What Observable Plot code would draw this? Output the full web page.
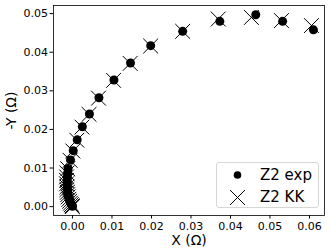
<!DOCTYPE html>
<html><head><meta charset="utf-8">
<script src="https://cdn.jsdelivr.net/npm/d3@7"></script>
<script src="https://cdn.jsdelivr.net/npm/@observablehq/plot@0.6"></script>
<style>
body{margin:0;background:#fff;}
#wrap{position:relative;width:332px;height:249px;font-family:"DejaVu Sans",sans-serif;}
#legend{position:absolute;left:216px;top:162px;width:103px;height:46px;border:1px solid #d6d6d6;border-radius:3px;background:rgba(255,255,255,0.8);box-sizing:border-box;}
#legend svg{position:absolute;left:0;top:0;}
#legend span{position:absolute;left:43px;font-size:15px;line-height:15px;color:#000;white-space:nowrap;}
</style></head><body><div id="wrap"></div>
<script>
const expX = [0.0610, 0.0532, 0.0464, 0.0373, 0.0279, 0.0198, 0.0147, 0.0105, 0.0067, 0.0043, 0.0025, 0.0012, 0.0002, -0.0005, -0.0011, -0.0012, -0.0013, -0.0013, -0.0013, -0.0013, -0.0012, -0.0012, -0.0011, -0.0010, -0.0009, -0.0007, -0.0005, -0.0003, -0.0001, 0.0000];
const expY = [0.0458, 0.0480, 0.0497, 0.0480, 0.0454, 0.0417, 0.0372, 0.0328, 0.0282, 0.0240, 0.0207, 0.0173, 0.0145, 0.0121, 0.0099, 0.0088, 0.0078, 0.0069, 0.0060, 0.0052, 0.0045, 0.0038, 0.0032, 0.0026, 0.0020, 0.0015, 0.0010, 0.0006, 0.0003, 0.0001];
const kkX = [0.0605, 0.0529, 0.0453, 0.0369, 0.0279, 0.0198, 0.0146, 0.0104, 0.0066, 0.0042, 0.0024, 0.0011, 0.0001, -0.0006, -0.0012, -0.0014, -0.0015, -0.0015, -0.0015, -0.0014, -0.0014, -0.0013, -0.0012, -0.0011, -0.0009, -0.0007, -0.0005, -0.0003, -0.0001, 0.0000];
const kkY = [0.0469, 0.0482, 0.0490, 0.0486, 0.0454, 0.0416, 0.0371, 0.0327, 0.0281, 0.0239, 0.0206, 0.0172, 0.0144, 0.0120, 0.0098, 0.0087, 0.0077, 0.0068, 0.0059, 0.0051, 0.0044, 0.0037, 0.0031, 0.0025, 0.0019, 0.0014, 0.0009, 0.0005, 0.0002, 0.0000];
const xTicks = [0.00, 0.01, 0.02, 0.03, 0.04, 0.05, 0.06];
const yTicks = [0.00, 0.01, 0.02, 0.03, 0.04, 0.05];
const xLabel = "X (Ω)";
const yLabel = "-Y (Ω)";
const seriesNames = ["Z2 exp", "Z2 KK"];

const expData = expX.map((x, i) => ({x, y: expY[i]}));
const kkData = kkX.map((x, i) => ({x, y: kkY[i]}));
const fmt = d3.format(".2f");

const chart = Plot.plot({
  width: 332, height: 249,
  marginLeft: 53, marginRight: 8, marginTop: 5, marginBottom: 34,
  x: {domain: [-0.0048, 0.0638]},
  y: {domain: [-0.0023, 0.0521]},
  style: {fontFamily: "'DejaVu Sans', sans-serif", fontSize: "11px", color: "#000", background: "#fff"},
  marks: [
    Plot.axisX({ticks: xTicks, tickFormat: fmt, tickSize: 3.5, tickPadding: 3, label: null}),
    Plot.axisY({ticks: yTicks, tickFormat: fmt, tickSize: 3.5, tickPadding: 2, label: null}),
    Plot.dot(expData, {x: "x", y: "y", r: 4.5, fill: "#000", stroke: "none"}),
    Plot.dot(kkData, {x: "x", y: "y", symbol: "times", r: 6.8, stroke: "#000", strokeWidth: 1, fill: "none"}),
    Plot.frame({stroke: "#000", strokeWidth: 0.8}),
    Plot.text([xLabel], {text: d => d, frameAnchor: "bottom", textAnchor: "middle", lineAnchor: "middle", dy: 25, fontSize: 14}),
    Plot.text([yLabel], {text: d => d, frameAnchor: "left", textAnchor: "middle", lineAnchor: "middle", dx: -42, rotate: -90, fontSize: 14})
  ]
});

const wrap = document.getElementById("wrap");
wrap.appendChild(chart);

const legend = document.createElement("div");
legend.id = "legend";
legend.innerHTML = `<svg width="103" height="46">
  <circle cx="20.5" cy="12" r="3.8" fill="#000"/>
  <path d="M13,27 L28,42 M13,42 L28,27" stroke="#000" stroke-width="1" fill="none"/>
</svg>`;
seriesNames.forEach((name, i) => {
  const s = document.createElement("span");
  s.textContent = name;
  s.style.top = (i === 0 ? 4.5 : 27) + "px";
  legend.appendChild(s);
});
wrap.appendChild(legend);
</script>
</body></html>
